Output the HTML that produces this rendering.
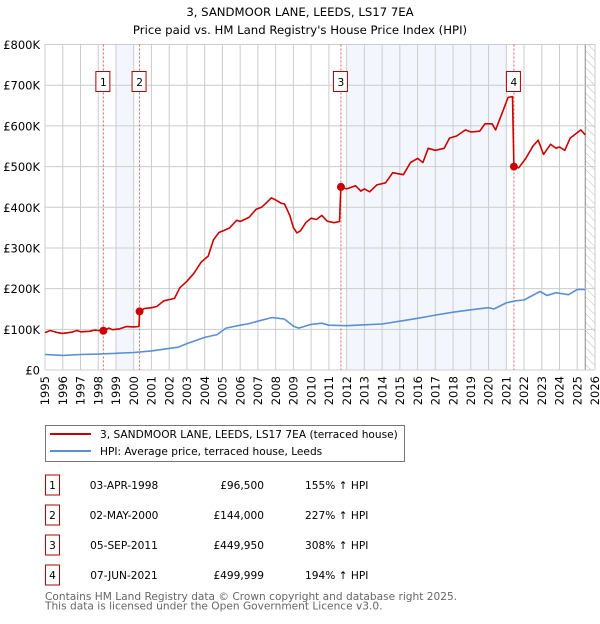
<!DOCTYPE html>
<html><head><meta charset="utf-8">
<style>
body{margin:0;background:#fff;font-family:"DejaVu Sans","Liberation Sans",sans-serif;}
svg text{font-family:"DejaVu Sans","Liberation Sans",sans-serif;}
</style></head>
<body>
<svg id="chart" width="600" height="620" xmlns="http://www.w3.org/2000/svg">
<defs><pattern id="hatch" width="6" height="6" patternUnits="userSpaceOnUse" patternTransform="rotate(-45)"><line x1="0" y1="0" x2="0" y2="6" stroke="#bbb" stroke-width="1"/></pattern></defs>
<text x="300" y="16" text-anchor="middle" font-size="11.7">3, SANDMOOR LANE, LEEDS, LS17 7EA</text>
<text x="300" y="34" text-anchor="middle" font-size="11.7">Price paid vs. HM Land Registry's House Price Index (HPI)</text>
<g id="plot"></g>
<g>
<rect x="45.5" y="425.5" width="359" height="36" fill="#fff" stroke="#777"/>
<line x1="50" y1="434" x2="91" y2="434" stroke="#cc0000" stroke-width="2"/>
<text x="100" y="438" font-size="10.6">3, SANDMOOR LANE, LEEDS, LS17 7EA (terraced house)</text>
<line x1="50" y1="451" x2="91" y2="451" stroke="#5b8fd4" stroke-width="2"/>
<text x="100" y="455" font-size="10.6">HPI: Average price, terraced house, Leeds</text>
</g>
<g id="table"></g>
<text x="45" y="600" font-size="10.6" fill="#666">Contains HM Land Registry data © Crown copyright and database right 2025.</text>
<text x="45" y="609.5" font-size="10.6" fill="#666">This data is licensed under the Open Government Licence v3.0.</text>
</svg>
<script>
const yTicks=[0,100,200,300,400,500,600,700,800];
const yTickLabels=["£0","£100K","£200K","£300K","£400K","£500K","£600K","£700K","£800K"];
const xYears=[1995,1996,1997,1998,1999,2000,2001,2002,2003,2004,2005,2006,2007,2008,2009,2010,2011,2012,2013,2014,2015,2016,2017,2018,2019,2020,2021,2022,2023,2024,2025,2026];
const redT=[1995.0,1995.3,1995.7,1996.0,1996.5,1996.8,1997.0,1997.5,1997.8,1998.0,1998.29,1998.6,1998.8,1999.2,1999.6,2000.0,2000.3,2000.33,2000.6,2001.0,2001.3,2001.7,2002.0,2002.3,2002.6,2003.0,2003.4,2003.8,2004.2,2004.5,2004.8,2005.1,2005.4,2005.8,2006.0,2006.5,2006.9,2007.2,2007.5,2007.75,2008.0,2008.3,2008.5,2008.8,2009.0,2009.2,2009.4,2009.7,2010.0,2010.3,2010.6,2010.9,2011.3,2011.6,2011.68,2012.0,2012.5,2012.8,2013.0,2013.3,2013.7,2014.2,2014.6,2015.2,2015.6,2016.0,2016.3,2016.6,2017.0,2017.5,2017.8,2018.2,2018.7,2019.0,2019.5,2019.8,2020.2,2020.4,2020.8,2021.1,2021.35,2021.43,2021.7,2022.1,2022.5,2022.8,2023.1,2023.5,2023.8,2024.0,2024.3,2024.6,2024.9,2025.2,2025.45];
const redV=[92,97,92,90,93,97,94,95,98,97,96.5,103,99,101,107,106,107,144,151,153,156,170,173,176,202,218,238,265,280,320,338,343,349,368,365,375,395,400,412,423,418,410,408,380,350,337,342,362,373,370,380,366,362,365,449.95,445,453,440,445,438,455,460,485,480,510,520,510,545,540,545,570,575,590,585,587,605,605,590,635,670,672,500,497,520,550,565,530,555,545,548,540,570,580,590,578];
const blueT=[1995,1996,1997,1998,1999,2000,2001,2002,2002.5,2003,2004,2004.7,2005.2,2006,2006.5,2007,2007.8,2008.5,2009,2009.3,2010,2010.6,2011,2012,2013,2014,2015,2016,2017,2018,2019,2020,2020.3,2021,2021.5,2022,2022.9,2023.3,2023.8,2024.5,2025,2025.45];
const blueV=[38,36,38,39,41,43,47,53,56,65,80,87,103,110,114,120,129,125,108,103,112,115,110,109,111,113,120,127,135,142,148,153,150,165,170,172,193,183,190,185,198,198];
const saleT=[1998.29,2000.33,2011.68,2021.43];
const saleV=[96.5,144,449.95,499.999];
const saleLabels=["1","2","3","4"];
const saleDates=["03-APR-1998","02-MAY-2000","05-SEP-2011","07-JUN-2021"];
const salePrices=["£96,500","£144,000","£449,950","£499,999"];
const salePct=["155% ↑ HPI","227% ↑ HPI","308% ↑ HPI","194% ↑ HPI"];
const shadeBands=[[1999,2000],[2012,2021]];

const X0=45,X1=595,Y0=370,Y1=44.5;
const xs=t=>X0+(t-1995)/(2026-1995)*(X1-X0);
const ys=v=>Y0-v/800*(Y0-Y1);
const NS="http://www.w3.org/2000/svg";
const plot=document.getElementById('plot');
function mk(tag,at,parent){const e=document.createElementNS(NS,tag);for(const k in at)e.setAttribute(k,at[k]);(parent||plot).appendChild(e);return e;}

shadeBands.forEach(b=>{const r=mk('rect',{x:xs(b[0]),y:Y1,width:xs(b[1])-xs(b[0]),height:Y0-Y1,fill:'#eef3fc',opacity:0.7});

});
const hx=xs(2025.45);
const h=mk('rect',{x:hx,y:Y1,width:X1-hx,height:Y0-Y1,fill:'url(#hatch)'});


mk('line',{x1:hx,y1:Y1,x2:hx,y2:Y0,stroke:'#888','stroke-width':1});
xYears.forEach(y=>{const l=mk('line',{x1:xs(y),y1:Y1,x2:xs(y),y2:Y0,stroke:'#ccc','stroke-width':1});


const t=mk('text',{x:0,y:0,'font-size':11.5,'text-anchor':'end',transform:`translate(${xs(y)+4.2},${Y0+6}) rotate(-90)`});
t.textContent=y;

});
yTicks.forEach((v,i)=>{const l=mk('line',{x1:X0,y1:ys(v),x2:X1,y2:ys(v),stroke:'#ccc','stroke-width':1});


const t=mk('text',{x:X0-5,y:ys(v)+4.5,'font-size':11.5,'text-anchor':'end'});
t.textContent=yTickLabels[i];

});
saleT.forEach((t,i)=>{const l=mk('line',{x1:xs(t),y1:Y1,x2:xs(t),y2:Y0,stroke:'#e06060','stroke-width':1,'stroke-dasharray':'2,2'});

});
function path(T,V,color,name){const d=T.map((t,i)=>(i?'L':'M')+xs(t).toFixed(1)+','+ys(V[i]).toFixed(1)).join('');
const p=mk('path',{d:d,fill:'none',stroke:color,'stroke-width':1.6,'stroke-linejoin':'round'});

}
path(blueT,blueV,'#5b8fd4','hpi-line');
path(redT,redV,'#cc0000','price-paid-line');
saleT.forEach((t,i)=>{const c=mk('circle',{cx:xs(t),cy:ys(saleV[i]),r:4,fill:'#cc0000'});


const g=mk('g',{});


mk('rect',{x:xs(t)-7.5,y:71.5,width:14,height:20,fill:'#fff',stroke:'#b00000'},g);
const tx=mk('text',{x:xs(t),y:86,'font-size':10.6,'text-anchor':'middle'},g);
tx.textContent=saleLabels[i];});
const tb=document.getElementById('table');
saleLabels.forEach((s,i)=>{const y=483+i*30;
const g=mk('g',{},tb);


mk('rect',{x:45.5,y:y-8,width:14,height:20,fill:'#fff',stroke:'#b00000'},g);
const a=mk('text',{x:52.5,y:y+6,'font-size':10.6,'text-anchor':'middle'},g);a.textContent=s;
const b=mk('text',{x:124,y:y+6,'font-size':10.6,'text-anchor':'middle'},g);b.textContent=saleDates[i];
const c=mk('text',{x:264,y:y+6,'font-size':10.6,'text-anchor':'end'},g);c.textContent=salePrices[i];
const d=mk('text',{x:305,y:y+6,'font-size':10.6},g);d.textContent=salePct[i];});
</script>
</body></html>
